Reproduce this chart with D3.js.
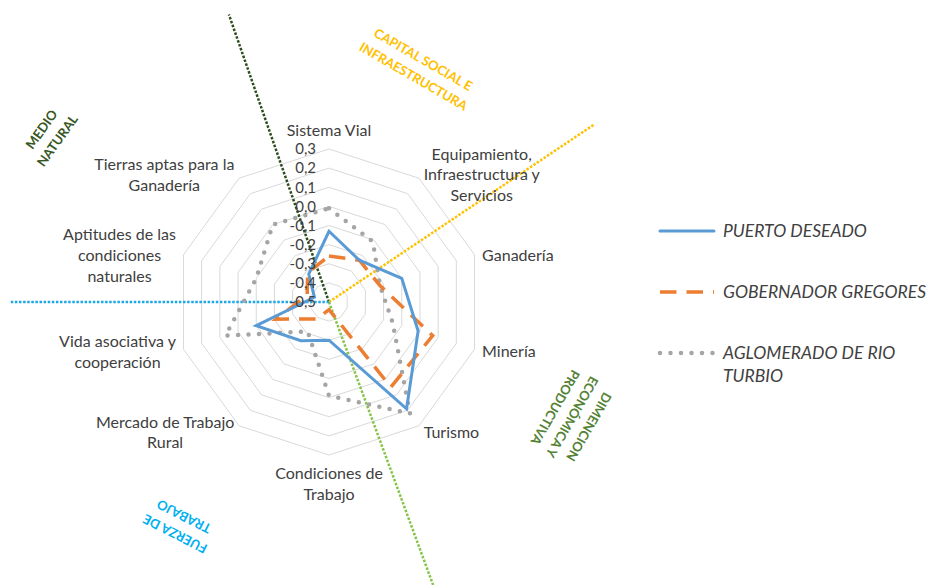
<!DOCTYPE html>
<html>
<head>
<meta charset="utf-8">
<script src="https://cdn.jsdelivr.net/npm/d3@7"></script>
<style>
	body { margin: 0; background: #fff; }
	svg { display: block; font-family: Lato, "Open Sans", sans-serif; }
</style>
</head>
<body>
<svg id="chart" width="932" height="585"></svg>
<script>
// axis categories, clockwise from the top
const categories = [
	"Sistema Vial",
	"Equipamiento,\nInfraestructura y\nServicios",
	"Ganadería",
	"Minería",
	"Turismo",
	"Condiciones de\nTrabajo",
	"Mercado de Trabajo\nRural",
	"Vida asociativa y\ncooperación",
	"Aptitudes de las\ncondiciones\nnaturales",
	"Tierras aptas para la\nGanadería"
];

const puertoDeseado      = [-0.13, -0.23, -0.10, -0.01, 0.19, -0.30, -0.25, -0.10, -0.42, -0.32];
const gobernadorGregores = [-0.26, -0.23, -0.22, 0.07, 0.05, -0.46, -0.39, -0.21, -0.38, -0.31];
const rioTurbio          = [-0.01, -0.11, -0.22, -0.15, 0.22, -0.01, -0.31, 0.07, -0.10, 0.00];

const tickValues = [-0.5, -0.4, -0.3, -0.2, -0.1, 0.0, 0.1, 0.2, 0.3];
const seriesNames = ["PUERTO DESEADO", "GOBERNADOR GREGORES", "AGLOMERADO DE RIO\nTURBIO"];
const dimensionNames = ["MEDIO\nNATURAL", "CAPITAL SOCIAL E\nINFRAESTRUCTURA", "DIMENCION\nECONÓMICA Y\nPRODUCTIVA", "FUERZA DE\nTRABAJO"];

const svg = d3.select("#chart");
const cx = 329, cy = 302, R = 153;
const textColor = "#404040";

const r = d3.scaleLinear().domain([-0.5, 0.3]).range([0, R]);
const angle = d3.scaleLinear().domain([0, categories.length]).range([0, 2 * Math.PI]);

const chart = svg.append("g").attr("transform", `translate(${cx},${cy})`);

// grid rings
const ring = d3.lineRadial()
	.angle((d, i) => angle(i))
	.radius(d => r(d))
	.curve(d3.curveLinearClosed);

chart.selectAll("path.ring")
	.data(tickValues.filter(t => t > -0.5))
	.enter()
	.append("path")
	.attr("class", "ring")
	.attr("d", t => ring(categories.map(() => t)))
	.attr("fill", "none")
	.attr("stroke", "#d9d9d9")
	.attr("stroke-width", 1);

// hand drawn dimension separators
const separators = [
	{ deg: 340.8, reach: 1.99, color: "#2b4d1b" },
	{ deg: 56.2, reach: 2.08, color: "#ffc000" },
	{ deg: 159.8, reach: 1.97, color: "#84c446" },
	{ deg: 270, reach: 2.08, color: "#1fa8e6" }
];
chart.selectAll("line.sep")
	.data(separators)
	.enter()
	.append("line")
	.attr("x1", 0)
	.attr("y1", 0)
	.attr("x2", d => Math.sin(d.deg * Math.PI / 180) * d.reach * R)
	.attr("y2", d => -Math.cos(d.deg * Math.PI / 180) * d.reach * R)
	.attr("stroke", d => d.color)
	.attr("stroke-width", 2.5)
	.attr("stroke-dasharray", "2.5 1.6");

// series
const series = [
	{ name: seriesNames[0], values: puertoDeseado, color: "#5b9bd5", width: 3, dash: null, cap: "round" },
	{ name: seriesNames[1], values: gobernadorGregores, color: "#ed7d31", width: 3.5, dash: "16.5 10", cap: "butt" },
	{ name: seriesNames[2], values: rioTurbio, color: "#a5a5a5", width: 4.5, dash: "0 10.5", cap: "round" }
];

const line = d3.lineRadial()
	.angle((d, i) => angle(i))
	.radius(d => r(d))
	.curve(d3.curveLinearClosed);

chart.selectAll("path.series")
	.data(series.slice().reverse())
	.enter()
	.append("path")
	.attr("class", "series")
	.attr("d", d => line(d.values))
	.attr("fill", "none")
	.attr("stroke", d => d.color)
	.attr("stroke-width", d => d.width)
	.attr("stroke-dasharray", d => d.dash)
	.attr("stroke-linecap", d => d.cap)
	.attr("stroke-linejoin", "miter");

// tick labels along the top axis
chart.selectAll("text.tick")
	.data(tickValues)
	.enter()
	.append("text")
	.attr("x", -13)
	.attr("y", t => -r(t))
	.attr("dy", "0.35em")
	.attr("text-anchor", "end")
	.attr("font-size", 15)
	.attr("fill", textColor)
	.text(t => d3.format(".1f")(t).replace(".", ",").replace("−", "-"));

// category labels
const lh = 20.7;
categories.forEach((label, i) => {
	const a = angle(i);
	const sin = Math.sin(a), cos = Math.cos(a);
	const ax = sin * (R + 8), ay = -cos * (R + 8) + (cos > 0.2 && cos < 0.99 ? 3 : 0);
	const lines = label.split("\n");
	const g = chart.append("g");
	const texts = g.selectAll("text")
		.data(lines)
		.enter()
		.append("text")
		.attr("text-anchor", "middle")
		.attr("font-size", 16)
		.attr("fill", textColor)
		.attr("dy", "0.35em")
		.text(d => d);
	let w = 0;
	texts.each(function() { w = Math.max(w, this.getComputedTextLength()); });
	const h = lines.length * lh;
	let bx = ax, top = ay - h / 2;
	if (sin > 0.01) bx = ax + w / 2;
	else if (sin < -0.01) bx = ax - w / 2;
	if (cos > 0.99) top = ay - h;
	else if (cos < -0.99) top = ay;
	texts.attr("x", bx).attr("y", (d, j) => top + lh * (j + 0.5));
});

// rotated dimension titles
const dimStyle = [
	{ x: 49.5, y: 135, rot: -54.5, color: "#375623" },
	{ x: 418.3, y: 68, rot: 30, color: "#ffc000" },
	{ x: 572, y: 417, rot: 120, color: "#548235" },
	{ x: 179.5, y: 525, rot: 207, color: "#00b0f0" }
];
dimensionNames.forEach((name, i) => {
	const s = dimStyle[i];
	const lines = name.split("\n");
	svg.append("g")
		.attr("transform", `translate(${s.x},${s.y}) rotate(${s.rot})`)
		.selectAll("text")
		.data(lines)
		.enter()
		.append("text")
		.attr("text-anchor", "middle")
		.attr("dy", "0.35em")
		.attr("y", (d, j) => (j - (lines.length - 1) / 2) * 19.5)
		.attr("font-size", 13)
		.attr("font-weight", "bold")
		.attr("fill", s.color)
		.text(d => d);
});

// legend
const legend = svg.append("g").attr("transform", "translate(660,231)");
const item = legend.selectAll("g")
	.data(series)
	.enter()
	.append("g")
	.attr("transform", (d, i) => `translate(0,${i * 61})`);
item.append("line")
	.attr("x1", 0)
	.attr("x2", 54)
	.attr("stroke", d => d.color)
	.attr("stroke-width", d => d.width)
	.attr("stroke-dasharray", d => d.dash)
	.attr("stroke-linecap", d => d.cap);
item.append("text")
	.attr("font-size", 17.5)
	.attr("font-style", "italic")
	.attr("fill", textColor)
	.selectAll("tspan")
	.data(d => d.name.split("\n"))
	.enter()
	.append("tspan")
	.attr("x", 63)
	.attr("y", (d, j) => j * 22.5)
	.attr("dy", "0.35em")
	.text(d => d);
</script>
</body>
</html>
